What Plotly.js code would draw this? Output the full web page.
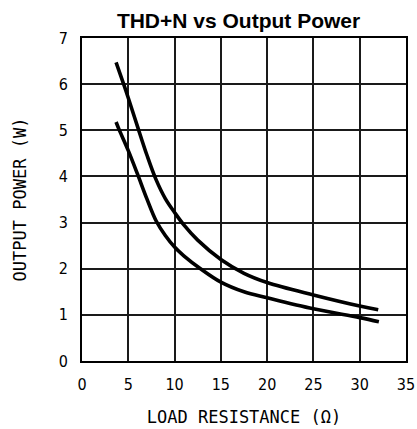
<!DOCTYPE html>
<html>
<head>
<meta charset="utf-8">
<script src="https://cdn.plot.ly/plotly-3.0.1.min.js"></script>
<style>html,body{margin:0;padding:0;background:#fff;}#chart{width:417px;height:429px;}</style>
</head>
<body>
<div id="chart"></div>
<script>
const upperR = [3.68, 4.5, 5, 6, 7, 8, 9, 10, 11, 12.5, 15, 17.5, 20, 25, 30, 32];
const upperP = [6.47, 6.0, 5.7, 5.08, 4.47, 3.93, 3.52, 3.22, 2.95, 2.62, 2.2, 1.9, 1.7, 1.43, 1.19, 1.11];
const lowerR = [3.68, 4, 5, 6, 7, 8, 9, 10, 11, 12.8, 15, 17.5, 20, 25, 30, 32.07];
const lowerP = [5.18, 5.02, 4.56, 4.05, 3.52, 3.04, 2.72, 2.47, 2.28, 2.0, 1.71, 1.5, 1.37, 1.13, 0.94, 0.85];
const xTicks = [0, 5, 10, 15, 20, 25, 30, 35];
const yTicks = [0, 1, 2, 3, 4, 5, 6, 7];

const lineStyle = {color: '#000', width: 3.6, shape: 'spline', smoothing: 1};
const data = [
  {x: upperR, y: upperP, mode: 'lines', line: lineStyle, hoverinfo: 'skip'},
  {x: lowerR, y: lowerP, mode: 'lines', line: lineStyle, hoverinfo: 'skip'}
];
const tickFont = {family: 'DejaVu Sans Condensed, DejaVu Sans', size: 16, color: '#000'};
const titleFont = {family: 'DejaVu Sans Mono', size: 17, color: '#000'};
const layout = {
  width: 417, height: 429,
  margin: {l: 82, r: 11, t: 37.5, b: 68.3},
  paper_bgcolor: '#fff', plot_bgcolor: '#fff',
  showlegend: false,
  title: {text: '<b>THD+N vs Output Power</b>', font: {family: 'Liberation Sans', size: 21, color: '#000'},
          xref: 'container', x: 0.572, xanchor: 'center', yref: 'container', y: 0.953, yanchor: 'middle'},
  xaxis: {range: [0, 35], tickmode: 'array', tickvals: xTicks, ticktext: xTicks.map(String),
          showgrid: true, gridcolor: '#1a1a1a', gridwidth: 2,
          showline: true, linecolor: '#000', linewidth: 2, mirror: true, ticks: '', zeroline: false,
          tickfont: tickFont, ticklabelstandoff: 8,
          title: {text: 'LOAD RESISTANCE (Ω)', font: titleFont, standoff: 18}},
  yaxis: {range: [0, 7], tickmode: 'array', tickvals: yTicks, ticktext: yTicks.map(String),
          showgrid: true, gridcolor: '#1a1a1a', gridwidth: 2,
          showline: true, linecolor: '#000', linewidth: 2, mirror: true, ticks: '', zeroline: false,
          tickfont: tickFont, ticklabelstandoff: 9,
          title: {text: 'OUTPUT POWER (W)', font: titleFont, standoff: 28}}
};
Plotly.newPlot('chart', data, layout, {staticPlot: true, displayModeBar: false});
</script>
</body>
</html>
